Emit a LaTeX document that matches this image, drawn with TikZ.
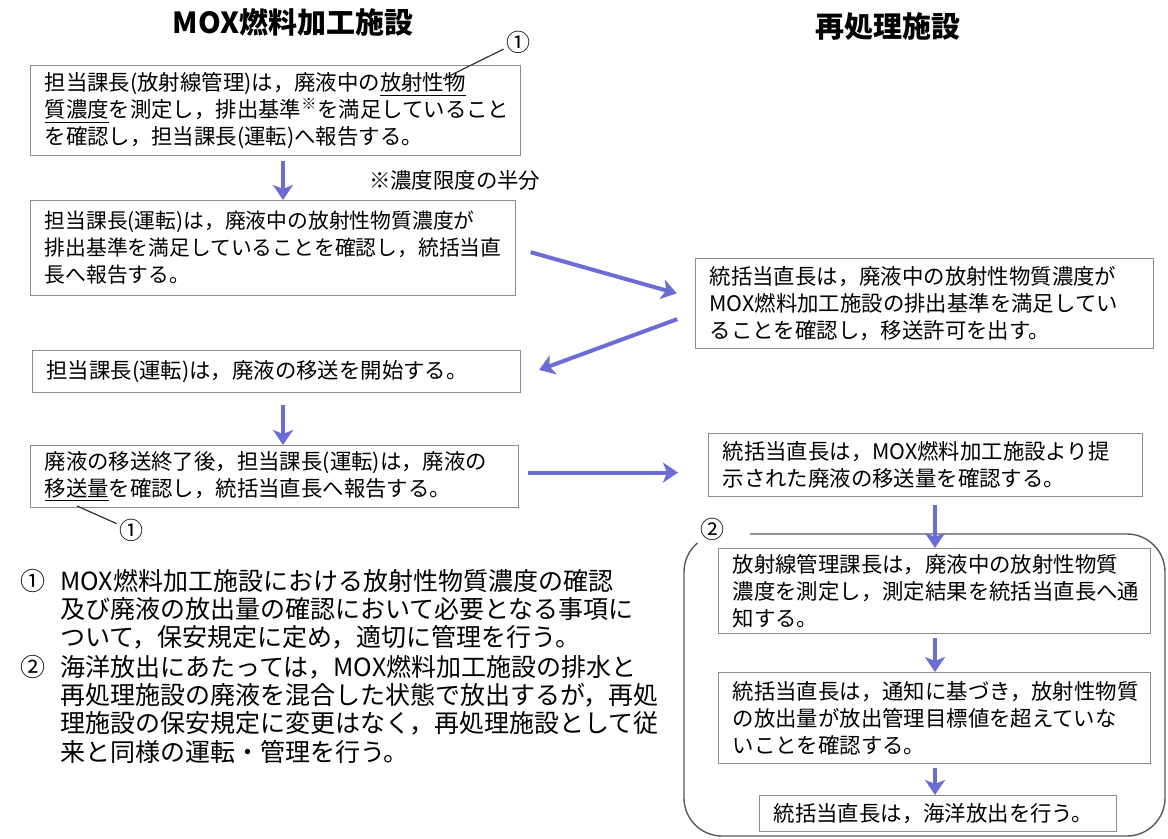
\documentclass[tikz,border=0pt]{standalone}
\usepackage{fontspec}
\setmainfont{Noto Sans CJK JP}
\usepackage{xcolor}
\usepackage{tikz}
\usetikzlibrary{arrows.meta}
\definecolor{flowblue}{RGB}{108,108,214}
\definecolor{boxgray}{RGB}{140,140,140}

\begin{document}
\begin{tikzpicture}[
    x=0.5pt, y=0.5pt,
    box/.style={draw=boxgray, line width=0.6pt, fill=white, anchor=north west, align=left, inner xsep=7pt, inner ysep=2pt, font=\fontsize{10.7pt}{13.5pt}\selectfont},
    title/.style={font=\fontsize{14.5pt}{16pt}\selectfont\bfseries},
    notetext/.style={align=left, text width=300pt, inner sep=0pt, anchor=base west, font=\fontsize{12.5pt}{14.2pt}\selectfont},
    notenum/.style={inner sep=0pt, anchor=base west, font=\fontsize{12.5pt}{14.2pt}\selectfont},
    circnum/.style={inner sep=1pt, font=\fontsize{12pt}{12pt}\selectfont},
    arr/.style={-{Stealth[length=7.5pt, width=10pt, inset=2pt]}, line width=2pt, flowblue},
    lead/.style={line width=0.6pt, black!80},
    bigframe/.style={draw=black!65, line width=0.7pt}
]
\useasboundingbox (0,0) rectangle (1168,-839);

% headings
\node[title] (mox) at (293,-22) {MOX燃料加工施設};
\node[title] (rep) at (888,-27) {再処理施設};

% MOX side
\node[box, text width=231pt, minimum height=45pt] (a1) at (30,-65) {担当課長(放射線管理)は，廃液中の\underline{放射性物}\\\underline{質濃度}を測定し，排出基準\textsuperscript{※}を満足していること\\を確認し，担当課長(運転)へ報告する。};
\node[anchor=west, font=\fontsize{10.7pt}{13.5pt}\selectfont] (half) at (362,-180) {※濃度限度の半分};
\node[box, text width=228.5pt, minimum height=47.5pt, font=\fontsize{10.4pt}{13.5pt}\selectfont] (a2) at (30,-200) {担当課長(運転)は，廃液中の放射性物質濃度が\\排出基準を満足していることを確認し，統括当直\\長へ報告する。};
\node[box, text width=230pt, minimum height=21pt] (a3) at (32,-350) {担当課長(運転)は，廃液の移送を開始する。};
\node[box, text width=230pt, minimum height=31pt] (a4) at (30,-445) {廃液の移送終了後，担当課長(運転)は，廃液の\\\underline{移送量}を確認し，統括当直長へ報告する。};

% reprocessing side
\draw[bigframe] (750,-534) -- (1127,-534) arc[start angle=90, end angle=0, radius=38] -- (1165,-798) arc[start angle=0, end angle=-90, radius=38] -- (722,-836) arc[start angle=270, end angle=180, radius=38] -- (684,-572) arc[start angle=180, end angle=130, radius=38];
\node[box, text width=215pt, minimum height=45pt] (b1) at (695,-258) {統括当直長は，廃液中の放射性物質濃度が\\MOX燃料加工施設の排出基準を満足してい\\ることを確認し，移送許可を出す。};
\node[box, text width=203pt, minimum height=31.5pt] (b2) at (708,-433) {統括当直長は，MOX燃料加工施設より提\\示された廃液の移送量を確認する。};
\node[box, text width=202pt, minimum height=42.5pt] (b3) at (718,-548) {放射線管理課長は，廃液中の放射性物質\\濃度を測定し，測定結果を統括当直長へ通\\知する。};
\node[box, text width=202pt, minimum height=45.5pt] (b4) at (718,-672) {統括当直長は，通知に基づき，放射性物質\\の放出量が放出管理目標値を超えていな\\いことを確認する。};
\node[box, text width=164.5pt, minimum height=18pt] (b5) at (759,-795) {統括当直長は，海洋放出を行う。};

% circled markers
\node[circnum] (c1a) at (518,-42) {①};
\coordinate (c1atail) at (443,-79);
\node[circnum] (c1b) at (131,-530) {①};
\coordinate (c1btail) at (77,-506);
\node[circnum] (c2) at (712,-529) {②};
\draw[lead] (c1a) -- (c1atail);
\draw[lead] (c1b) -- (c1btail);

% notes
\node[notenum] (n1) at (20,-590) {①};
\node[notetext] (note1) at (60,-590) {MOX燃料加工施設における放射性物質濃度の確認\\及び廃液の放出量の確認において必要となる事項に\\ついて，保安規定に定め，適切に管理を行う。};
\node[notenum] (n2) at (20,-676) {②};
\node[notetext] (note2) at (60,-676) {海洋放出にあたっては，MOX燃料加工施設の排水と\\再処理施設の廃液を混合した状態で放出するが，再処\\理施設の保安規定に変更はなく，再処理施設として従\\来と同様の運転・管理を行う。};

% flow arrows
\coordinate (lx) at (283,0);
\coordinate (rx) at (935,0);
\draw[arr, shorten <=2.5pt] (a1.south -| lx) -- (a2.north -| lx);
\draw[arr, shorten <=6pt] (a3.south -| lx) -- (a4.north -| lx);
\draw[arr, shorten <=7.5pt, shorten >=9.5pt] (a2.east) -- ([yshift=2.5pt]b1.west);
\draw[arr, shorten <=9.5pt, shorten >=9.5pt] ([yshift=-4.5pt]b1.west) -- ([yshift=-2.5pt]a3.east);
\draw[arr, shorten <=4.5pt, shorten >=15pt] ([yshift=2pt]a4.east) -- ([yshift=2pt]a4.east -| b2.west);
\draw[arr, shorten <=4pt] (b2.south -| rx) -- (b3.north -| rx);
\draw[arr, shorten <=2pt] (b3.south -| rx) -- (b4.north -| rx);
\draw[arr, shorten <=2pt] (b4.south -| rx) -- (b5.north -| rx);

\end{tikzpicture}
\end{document}
